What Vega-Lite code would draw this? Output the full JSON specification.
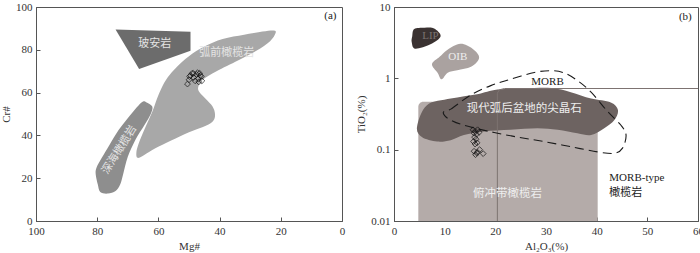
{
  "$schema": "https://vega.github.io/schema/vega-lite/v6.json",
  "padding": {"left": 0, "top": 0, "right": 3, "bottom": 0},
  "spacing": 9,
  "config": {
    "font": "Liberation Serif",
    "view": {"stroke": "#555555", "strokeWidth": 1},
    "axis": {
      "grid": false,
      "domainColor": "#555555",
      "tickColor": "#555555",
      "tickSize": -4,
      "labelPadding": 8,
      "labelFlush": false,
      "labelOverlap": false,
      "labelFont": "Liberation Serif",
      "labelFontSize": 11,
      "labelColor": "#333333",
      "titleFont": "Liberation Serif",
      "titleFontSize": 11,
      "titleFontWeight": "normal",
      "titleColor": "#333333",
      "titlePadding": 4,
      "minExtent": 0
    }
  },
  "datasets": {
    "shapesA": [
      {"shape": "boninite", "i": 0, "mg": 74, "cr": 89.5},
      {"shape": "boninite", "i": 1, "mg": 49.5, "cr": 88.4},
      {"shape": "boninite", "i": 2, "mg": 49.5, "cr": 79.5},
      {"shape": "boninite", "i": 3, "mg": 66.3, "cr": 71},
      {"shape": "forearc", "i": 0, "mg": 66.8, "cr": 29.5},
      {"shape": "forearc", "i": 1, "mg": 67.2, "cr": 32},
      {"shape": "forearc", "i": 2, "mg": 66.5, "cr": 36},
      {"shape": "forearc", "i": 3, "mg": 64.5, "cr": 43},
      {"shape": "forearc", "i": 4, "mg": 62, "cr": 51},
      {"shape": "forearc", "i": 5, "mg": 60.5, "cr": 57},
      {"shape": "forearc", "i": 6, "mg": 59, "cr": 62},
      {"shape": "forearc", "i": 7, "mg": 57, "cr": 67},
      {"shape": "forearc", "i": 8, "mg": 54, "cr": 72},
      {"shape": "forearc", "i": 9, "mg": 50, "cr": 77},
      {"shape": "forearc", "i": 10, "mg": 45, "cr": 81.5},
      {"shape": "forearc", "i": 11, "mg": 39, "cr": 85},
      {"shape": "forearc", "i": 12, "mg": 32, "cr": 87},
      {"shape": "forearc", "i": 13, "mg": 26, "cr": 88.5},
      {"shape": "forearc", "i": 14, "mg": 22.3, "cr": 89},
      {"shape": "forearc", "i": 15, "mg": 21.7, "cr": 87.8},
      {"shape": "forearc", "i": 16, "mg": 23.5, "cr": 84},
      {"shape": "forearc", "i": 17, "mg": 28, "cr": 79.5},
      {"shape": "forearc", "i": 18, "mg": 34, "cr": 75},
      {"shape": "forearc", "i": 19, "mg": 41, "cr": 70},
      {"shape": "forearc", "i": 20, "mg": 45.5, "cr": 66},
      {"shape": "forearc", "i": 21, "mg": 47, "cr": 62.5},
      {"shape": "forearc", "i": 22, "mg": 46.5, "cr": 60},
      {"shape": "forearc", "i": 23, "mg": 44.5, "cr": 57},
      {"shape": "forearc", "i": 24, "mg": 42.3, "cr": 53.5},
      {"shape": "forearc", "i": 25, "mg": 41.5, "cr": 50},
      {"shape": "forearc", "i": 26, "mg": 42, "cr": 47},
      {"shape": "forearc", "i": 27, "mg": 44.5, "cr": 44.5},
      {"shape": "forearc", "i": 28, "mg": 50, "cr": 41.5},
      {"shape": "forearc", "i": 29, "mg": 56, "cr": 37.5},
      {"shape": "forearc", "i": 30, "mg": 61, "cr": 34},
      {"shape": "forearc", "i": 31, "mg": 64.5, "cr": 31},
      {"shape": "abyssal", "i": 0, "mg": 64, "cr": 55.5},
      {"shape": "abyssal", "i": 1, "mg": 62, "cr": 53.5},
      {"shape": "abyssal", "i": 2, "mg": 62.5, "cr": 50},
      {"shape": "abyssal", "i": 3, "mg": 64.5, "cr": 45},
      {"shape": "abyssal", "i": 4, "mg": 67.5, "cr": 38},
      {"shape": "abyssal", "i": 5, "mg": 70, "cr": 30},
      {"shape": "abyssal", "i": 6, "mg": 71.5, "cr": 22},
      {"shape": "abyssal", "i": 7, "mg": 72.5, "cr": 17},
      {"shape": "abyssal", "i": 8, "mg": 74, "cr": 14},
      {"shape": "abyssal", "i": 9, "mg": 76.5, "cr": 12.8},
      {"shape": "abyssal", "i": 10, "mg": 79, "cr": 13.5},
      {"shape": "abyssal", "i": 11, "mg": 79.8, "cr": 17},
      {"shape": "abyssal", "i": 12, "mg": 80.5, "cr": 22},
      {"shape": "abyssal", "i": 13, "mg": 80.2, "cr": 25},
      {"shape": "abyssal", "i": 14, "mg": 78.5, "cr": 29.5},
      {"shape": "abyssal", "i": 15, "mg": 76, "cr": 35.5},
      {"shape": "abyssal", "i": 16, "mg": 73, "cr": 42.5},
      {"shape": "abyssal", "i": 17, "mg": 69.5, "cr": 49},
      {"shape": "abyssal", "i": 18, "mg": 66.5, "cr": 54},
      {"shape": "abyssal", "i": 19, "mg": 65, "cr": 55.8}
    ],
    "pointsA": [
      {"mg": 50.5, "cr": 64}, {"mg": 50, "cr": 66}, {"mg": 49.5, "cr": 68},
      {"mg": 49, "cr": 69}, {"mg": 48.5, "cr": 67}, {"mg": 48, "cr": 65.5},
      {"mg": 47.5, "cr": 68.5}, {"mg": 47, "cr": 66.5}, {"mg": 46.5, "cr": 69},
      {"mg": 46, "cr": 67.5}, {"mg": 45.8, "cr": 65.5}, {"mg": 46.3, "cr": 68},
      {"mg": 47.2, "cr": 69.3}, {"mg": 49.8, "cr": 67.5}, {"mg": 46.8, "cr": 65},
      {"mg": 48.6, "cr": 69}
    ],
    "textA": [
      {"group": "light", "label": "玻安岩", "mg": 61.2, "cr": 82.6},
      {"group": "light", "label": "弧前橄榄岩", "mg": 37.7, "cr": 78.7},
      {"group": "rot", "label": "深海橄榄岩", "mg": 72.7, "cr": 33.2},
      {"group": "dark", "label": "(a)", "mg": 3.8, "cr": 95.7}
    ],
    "shapesB": [
      {"shape": "lip", "i": 0, "al": 3.6, "ti": 3.9},
      {"shape": "lip", "i": 1, "al": 4.0, "ti": 4.9},
      {"shape": "lip", "i": 2, "al": 6.0, "ti": 5.1},
      {"shape": "lip", "i": 3, "al": 7.9, "ti": 5.0},
      {"shape": "lip", "i": 4, "al": 9.2, "ti": 3.9},
      {"shape": "lip", "i": 5, "al": 7.2, "ti": 3.0},
      {"shape": "lip", "i": 6, "al": 4.2, "ti": 2.6},
      {"shape": "lip", "i": 7, "al": 3.5, "ti": 3.2},
      {"shape": "oib", "i": 0, "al": 7.5, "ti": 1.58},
      {"shape": "oib", "i": 1, "al": 9.0, "ti": 2.0},
      {"shape": "oib", "i": 2, "al": 10.5, "ti": 2.5},
      {"shape": "oib", "i": 3, "al": 13.1, "ti": 3.05},
      {"shape": "oib", "i": 4, "al": 15.5, "ti": 2.6},
      {"shape": "oib", "i": 5, "al": 16.8, "ti": 1.95},
      {"shape": "oib", "i": 6, "al": 15.2, "ti": 1.45},
      {"shape": "oib", "i": 7, "al": 12.5, "ti": 1.3},
      {"shape": "oib", "i": 8, "al": 10.6, "ti": 1.2},
      {"shape": "oib", "i": 9, "al": 9.4, "ti": 0.97},
      {"shape": "oib", "i": 10, "al": 8.6, "ti": 1.2},
      {"shape": "blob", "i": 0, "al": 4.55, "ti": 0.21},
      {"shape": "blob", "i": 1, "al": 6.5, "ti": 0.42},
      {"shape": "blob", "i": 2, "al": 11.2, "ti": 0.52},
      {"shape": "blob", "i": 3, "al": 16.4, "ti": 0.6},
      {"shape": "blob", "i": 4, "al": 20.4, "ti": 0.7},
      {"shape": "blob", "i": 5, "al": 25.7, "ti": 0.72},
      {"shape": "blob", "i": 6, "al": 31, "ti": 0.73},
      {"shape": "blob", "i": 7, "al": 34.9, "ti": 0.64},
      {"shape": "blob", "i": 8, "al": 38.9, "ti": 0.52},
      {"shape": "blob", "i": 9, "al": 42.8, "ti": 0.46},
      {"shape": "blob", "i": 10, "al": 44.2, "ti": 0.36},
      {"shape": "blob", "i": 11, "al": 43.5, "ti": 0.26},
      {"shape": "blob", "i": 12, "al": 41.5, "ti": 0.2},
      {"shape": "blob", "i": 13, "al": 38.9, "ti": 0.16},
      {"shape": "blob", "i": 14, "al": 36.2, "ti": 0.17},
      {"shape": "blob", "i": 15, "al": 32.3, "ti": 0.19},
      {"shape": "blob", "i": 16, "al": 28.3, "ti": 0.2},
      {"shape": "blob", "i": 17, "al": 23, "ti": 0.19},
      {"shape": "blob", "i": 18, "al": 17.8, "ti": 0.18},
      {"shape": "blob", "i": 19, "al": 13.8, "ti": 0.16},
      {"shape": "blob", "i": 20, "al": 11.2, "ti": 0.136},
      {"shape": "blob", "i": 21, "al": 8.5, "ti": 0.13},
      {"shape": "blob", "i": 22, "al": 5.5, "ti": 0.15},
      {"shape": "morb", "i": 0, "al": 9.8, "ti": 0.34},
      {"shape": "morb", "i": 1, "al": 11.2, "ti": 0.37},
      {"shape": "morb", "i": 2, "al": 15.1, "ti": 0.58},
      {"shape": "morb", "i": 3, "al": 19.1, "ti": 0.79},
      {"shape": "morb", "i": 4, "al": 23, "ti": 0.97},
      {"shape": "morb", "i": 5, "al": 27.7, "ti": 1.21},
      {"shape": "morb", "i": 6, "al": 31, "ti": 1.28},
      {"shape": "morb", "i": 7, "al": 33.6, "ti": 1.19},
      {"shape": "morb", "i": 8, "al": 36.2, "ti": 0.93},
      {"shape": "morb", "i": 9, "al": 38.9, "ti": 0.64},
      {"shape": "morb", "i": 10, "al": 42.2, "ti": 0.34},
      {"shape": "morb", "i": 11, "al": 44.8, "ti": 0.22},
      {"shape": "morb", "i": 12, "al": 45.8, "ti": 0.16},
      {"shape": "morb", "i": 13, "al": 45.1, "ti": 0.105},
      {"shape": "morb", "i": 14, "al": 43.5, "ti": 0.089},
      {"shape": "morb", "i": 15, "al": 40.2, "ti": 0.093},
      {"shape": "morb", "i": 16, "al": 34.9, "ti": 0.11},
      {"shape": "morb", "i": 17, "al": 29.6, "ti": 0.13},
      {"shape": "morb", "i": 18, "al": 24.4, "ti": 0.15},
      {"shape": "morb", "i": 19, "al": 19.1, "ti": 0.178},
      {"shape": "morb", "i": 20, "al": 13.8, "ti": 0.22},
      {"shape": "morb", "i": 21, "al": 11.2, "ti": 0.26},
      {"shape": "morb", "i": 22, "al": 10, "ti": 0.3},
      {"shape": "bound", "i": 0, "al": 20.4, "ti": 0.01},
      {"shape": "bound", "i": 1, "al": 20.4, "ti": 0.62},
      {"shape": "bound", "i": 2, "al": 20.8, "ti": 0.69},
      {"shape": "bound", "i": 3, "al": 21.8, "ti": 0.72},
      {"shape": "bound", "i": 4, "al": 60, "ti": 0.72}
    ],
    "rectB": [{"x1": 4.8, "x2": 40.2, "y1": 0.01, "y2": 0.47}],
    "pointsB": [
      {"al": 15.6, "ti": 0.19}, {"al": 16.0, "ti": 0.18}, {"al": 16.5, "ti": 0.19},
      {"al": 15.8, "ti": 0.17}, {"al": 16.3, "ti": 0.165}, {"al": 16.8, "ti": 0.175},
      {"al": 15.9, "ti": 0.15}, {"al": 16.2, "ti": 0.14}, {"al": 15.7, "ti": 0.13},
      {"al": 16.4, "ti": 0.125}, {"al": 16.0, "ti": 0.12}, {"al": 15.8, "ti": 0.095},
      {"al": 16.3, "ti": 0.09}, {"al": 16.9, "ti": 0.1}, {"al": 16.1, "ti": 0.085},
      {"al": 17.6, "ti": 0.088}, {"al": 16.5, "ti": 0.092}
    ],
    "textB": [
      {"group": "lip", "label": "LIP", "al": 7.2, "ti": 3.9},
      {"group": "lightserif", "label": "OIB", "al": 12.6, "ti": 1.96},
      {"group": "darkserif", "label": "MORB", "al": 30.3, "ti": 0.9},
      {"group": "lightcjk", "label": "现代弧后盆地的尖晶石", "al": 25.7, "ti": 0.375},
      {"group": "lightcjk", "label": "俯冲带橄榄岩", "al": 22.4, "ti": 0.024},
      {"group": "darkleft", "label": "MORB-type", "al": 42.5, "ti": 0.04},
      {"group": "darkleftcjk", "label": "橄榄岩", "al": 42.5, "ti": 0.0245},
      {"group": "darkserif", "label": "(b)", "al": 57.5, "ti": 7.3}
    ]
  },
  "hconcat": [
    {
      "width": 306,
      "height": 214,
      "encoding": {
        "x": {"field": "mg", "type": "quantitative", "scale": {"domain": [0, 100], "reverse": true, "nice": false},
              "axis": {"title": "Mg#", "values": [0, 20, 40, 60, 80, 100]}},
        "y": {"field": "cr", "type": "quantitative", "scale": {"domain": [0, 100], "nice": false},
              "axis": {"title": "Cr#", "values": [0, 20, 40, 60, 80, 100]}}
      },
      "layer": [
        {"data": {"name": "shapesA"}, "transform": [{"filter": "datum.shape === 'forearc'"}],
         "mark": {"type": "line", "interpolate": "cardinal-closed", "fill": "#a8a8a8", "stroke": null},
         "encoding": {"order": {"field": "i", "type": "quantitative"}}},
        {"data": {"name": "shapesA"}, "transform": [{"filter": "datum.shape === 'abyssal'"}],
         "mark": {"type": "line", "interpolate": "cardinal-closed", "fill": "#8e8e8e", "stroke": null},
         "encoding": {"order": {"field": "i", "type": "quantitative"}}},
        {"data": {"name": "shapesA"}, "transform": [{"filter": "datum.shape === 'boninite'"}],
         "mark": {"type": "line", "interpolate": "linear-closed", "fill": "#6c6c6c", "stroke": null},
         "encoding": {"order": {"field": "i", "type": "quantitative"}}},
        {"data": {"name": "pointsA"},
         "mark": {"type": "point", "shape": "diamond", "filled": false, "stroke": "#111111", "strokeWidth": 1, "size": 34}},
        {"data": {"name": "textA"}, "transform": [{"filter": "datum.group === 'light'"}],
         "mark": {"type": "text", "font": "Noto Sans CJK SC", "fontSize": 11, "fill": "#e4e4e4"},
         "encoding": {"text": {"field": "label"}}},
        {"data": {"name": "textA"}, "transform": [{"filter": "datum.group === 'rot'"}],
         "mark": {"type": "text", "font": "Noto Sans CJK SC", "fontSize": 11, "fill": "#e4e4e4", "angle": -58},
         "encoding": {"text": {"field": "label"}}},
        {"data": {"name": "textA"}, "transform": [{"filter": "datum.group === 'dark'"}],
         "mark": {"type": "text", "font": "Liberation Serif", "fontSize": 11, "fill": "#222222"},
         "encoding": {"text": {"field": "label"}}}
      ]
    },
    {
      "width": 304,
      "height": 214,
      "encoding": {
        "x": {"field": "al", "type": "quantitative", "scale": {"domain": [0, 60], "nice": false},
              "axis": {"title": "Al₂O₃(%)", "values": [0, 10, 20, 30, 40, 50, 60]}},
        "y": {"field": "ti", "type": "quantitative", "scale": {"type": "log", "domain": [0.01, 10], "nice": false},
              "axis": {"title": "TiO₂(%)", "values": [0.01, 0.1, 1, 10], "format": "~g"}}
      },
      "layer": [
        {"data": {"name": "rectB"},
         "mark": {"type": "rect", "fill": "#b4aba9", "cornerRadiusTopLeft": 5},
         "encoding": {
           "x": {"field": "x1", "type": "quantitative"},
           "x2": {"field": "x2"},
           "y": {"field": "y1", "type": "quantitative"},
           "y2": {"field": "y2"}
         }},
        {"data": {"name": "shapesB"}, "transform": [{"filter": "datum.shape === 'lip'"}],
         "mark": {"type": "line", "interpolate": "cardinal-closed", "fill": "#3a3231", "stroke": null},
         "encoding": {"order": {"field": "i", "type": "quantitative"}}},
        {"data": {"name": "shapesB"}, "transform": [{"filter": "datum.shape === 'oib'"}],
         "mark": {"type": "line", "interpolate": "cardinal-closed", "fill": "#aaa2a0", "stroke": null},
         "encoding": {"order": {"field": "i", "type": "quantitative"}}},
        {"data": {"name": "shapesB"}, "transform": [{"filter": "datum.shape === 'blob'"}],
         "mark": {"type": "line", "interpolate": "cardinal-closed", "fill": "#6d6361", "stroke": null},
         "encoding": {"order": {"field": "i", "type": "quantitative"}}},
        {"data": {"name": "shapesB"}, "transform": [{"filter": "datum.shape === 'bound'"}],
         "mark": {"type": "line", "interpolate": "linear", "stroke": "#7d7371", "strokeWidth": 1},
         "encoding": {"order": {"field": "i", "type": "quantitative"}}},
        {"data": {"name": "shapesB"}, "transform": [{"filter": "datum.shape === 'morb'"}],
         "mark": {"type": "line", "interpolate": "cardinal-closed", "stroke": "#1a1a1a", "strokeWidth": 1.1, "strokeDash": [9, 5]},
         "encoding": {"order": {"field": "i", "type": "quantitative"}}},
        {"data": {"name": "pointsB"},
         "mark": {"type": "point", "shape": "diamond", "filled": false, "stroke": "#111111", "strokeWidth": 1, "size": 34}},
        {"data": {"name": "textB"}, "transform": [{"filter": "datum.group === 'lip'"}],
         "mark": {"type": "text", "font": "Liberation Serif", "fontSize": 11, "fill": "#7a7270"},
         "encoding": {"text": {"field": "label"}}},
        {"data": {"name": "textB"}, "transform": [{"filter": "datum.group === 'lightserif'"}],
         "mark": {"type": "text", "font": "Liberation Serif", "fontSize": 11, "fill": "#eeeeee"},
         "encoding": {"text": {"field": "label"}}},
        {"data": {"name": "textB"}, "transform": [{"filter": "datum.group === 'darkserif'"}],
         "mark": {"type": "text", "font": "Liberation Serif", "fontSize": 11, "fill": "#222222"},
         "encoding": {"text": {"field": "label"}}},
        {"data": {"name": "textB"}, "transform": [{"filter": "datum.group === 'lightcjk'"}],
         "mark": {"type": "text", "font": "Noto Sans CJK SC", "fontSize": 11.5, "fill": "#eeeeee"},
         "encoding": {"text": {"field": "label"}}},
        {"data": {"name": "textB"}, "transform": [{"filter": "datum.group === 'darkleft'"}],
         "mark": {"type": "text", "font": "Liberation Serif", "fontSize": 11, "fill": "#222222", "align": "left"},
         "encoding": {"text": {"field": "label"}}},
        {"data": {"name": "textB"}, "transform": [{"filter": "datum.group === 'darkleftcjk'"}],
         "mark": {"type": "text", "font": "Noto Sans CJK SC", "fontSize": 11, "fill": "#222222", "align": "left"},
         "encoding": {"text": {"field": "label"}}}
      ]
    }
  ]
}
